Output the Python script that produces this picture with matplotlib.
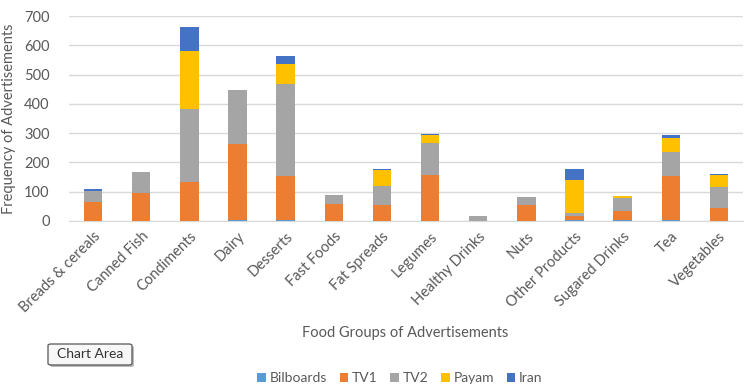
import matplotlib.pyplot as plt
import numpy as np
from matplotlib.patches import FancyBboxPatch

categories = ['Breads & cereals', 'Canned Fish', 'Condiments', 'Dairy', 'Desserts',
              'Fast Foods', 'Fat Spreads', 'Legumes', 'Healthy Drinks', 'Nuts',
              'Other Products', 'Sugared Drinks', 'Tea', 'Vegetables']
bilboards = [0, 0, 0, 3, 3, 0, 0, 0, 0, 0, 4, 5, 5, 0]
tv1 = [65, 95, 133, 261, 152, 57, 53, 158, 0, 55, 12, 30, 150, 43]
tv2 = [39, 71, 250, 182, 312, 33, 66, 110, 18, 27, 10, 45, 79, 73]
payam = [0, 0, 199, 2, 69, 0, 56, 26, 0, 0, 115, 4, 48, 42]
iran = [5, 0, 80, 0, 28, 0, 4, 4, 0, 0, 37, 0, 11, 4]

series = [('Bilboards', bilboards, '#5B9BD5'),
          ('TV1', tv1, '#ED7D31'),
          ('TV2', tv2, '#A5A5A5'),
          ('Payam', payam, '#FFC000'),
          ('Iran', iran, '#4472C4')]

plt.rcParams['font.family'] = ['Lato', 'DejaVu Sans']
txt = '#595959'

fig = plt.figure(figsize=(7.52, 3.88), dpi=100)
ax = fig.add_axes([69 / 752, 1 - 221 / 388, 674 / 752, 205 / 388])

x = np.arange(len(categories))
bottom = np.zeros(len(categories))
for name, vals, col in series:
    ax.bar(x, vals, 0.38, bottom=bottom, color=col, label=name, zorder=3)
    bottom += np.array(vals)

ax.set_xlim(-0.5, len(categories) - 0.5)
ax.set_ylim(0, 700)
ax.set_yticks(range(0, 701, 100))
ax.grid(axis='y', color='#D9D9D9', linewidth=1, zorder=0)
for s in ['top', 'right', 'left']:
    ax.spines[s].set_visible(False)
ax.spines['bottom'].set_color('#D9D9D9')
ax.tick_params(axis='both', length=0, colors=txt, labelsize=10.5)
ax.tick_params(axis='y', pad=14)
ax.tick_params(axis='x', pad=6)
ax.set_xticks(x)
ax.set_xticklabels(categories, rotation=45, ha='right', rotation_mode='anchor')
ax.set_ylabel('Frequency of Advertisements', color=txt, fontsize=10.5)
ax.yaxis.set_label_coords((16 - 69) / 674, 0.5)

# axis title sits below the rotated labels
fig.text(405 / 752, 1 - 333 / 388, 'Food Groups of Advertisements', color=txt,
         fontsize=10.5, ha='center', va='center')

ax.legend(loc='center', bbox_to_anchor=(400 / 752, 1 - 378 / 388),
          bbox_transform=fig.transFigure, ncol=5, frameon=False, fontsize=10,
          handlelength=0.6, handleheight=0.6, handletextpad=0.3, columnspacing=0.9,
          labelcolor=txt)

shadow = FancyBboxPatch((50 / 752, 1 - 367 / 388), 84 / 752, 21 / 388,
                        boxstyle='round,pad=0,rounding_size=0.004', transform=fig.transFigure,
                        facecolor='#BBBBBB', edgecolor='none')
box = FancyBboxPatch((48 / 752, 1 - 365 / 388), 84 / 752, 21 / 388,
                     boxstyle='round,pad=0,rounding_size=0.004', transform=fig.transFigure,
                     facecolor='#F7F7F7', edgecolor='#555555', linewidth=0.9)
fig.patches.append(shadow)
fig.patches.append(box)
fig.text(90 / 752, 1 - 354 / 388, 'Chart Area', ha='center', va='center',
         fontsize=10, color='#333333')

fig.savefig('out.png', dpi=100)
